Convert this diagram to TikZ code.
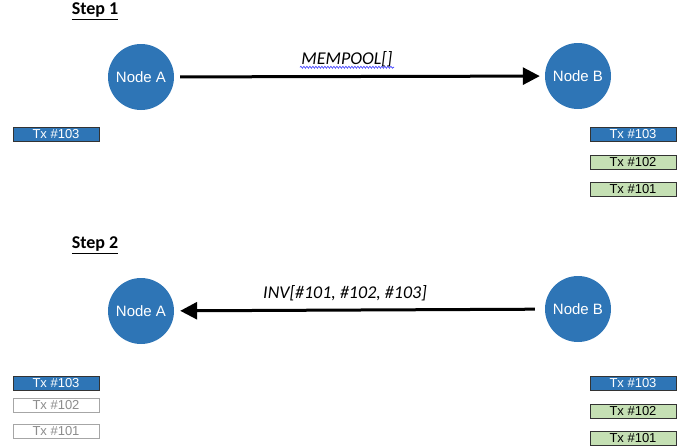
\documentclass[tikz,border=0pt]{standalone}
\usepackage{fontspec}
\setmainfont{Liberation Sans}
\newfontfamily\calibri{Carlito}
\usetikzlibrary{arrows.meta,decorations.pathmorphing}

\definecolor{peerblue}{HTML}{2E75B6}
\definecolor{txgreen}{HTML}{C5E0B4}

\begin{document}
\begin{tikzpicture}[x=1pt,y=-1pt]
    \tikzstyle{every node}=[font=\fontsize{13}{15}\selectfont]
    \tikzstyle{peer}=[circle,fill=peerblue,text=white,minimum size=66pt,inner sep=0pt,font=\fontsize{15}{17}\selectfont]
    \tikzstyle{txnew}=[draw=black!80,fill=peerblue,text=white,minimum width=86pt,minimum height=14pt,inner sep=0pt]
    \tikzstyle{txseen}=[draw=black!80,fill=txgreen,text=black,minimum width=86pt,minimum height=14pt,inner sep=0pt]
    \tikzstyle{txgone}=[draw=black!35,line width=1pt,fill=white,text=black!45,minimum width=86pt,minimum height=14pt,inner sep=0pt]
    \tikzstyle{steplabel}=[font=\calibri\bfseries\fontsize{18}{20}\selectfont]
    \tikzstyle{msg}=[font=\calibri\itshape\fontsize{18}{20}\selectfont]
    \tikzstyle{send}=[line width=3pt,-{Triangle[length=17pt,width=17pt]}]
    \useasboundingbox (0,0) rectangle (683,445);

    % step 1
    \node[steplabel] (step1) at (95,11) {\underline{Step 1}};
    \node[peer] (nodeA1) at (141,77) {Node A};
    \node[peer] (nodeB1) at (578,76) {Node B};
    \draw[send,shorten <=6pt,shorten >=5pt] (nodeA1) -- (nodeB1);
    \node[msg] (mempool) at (347,59) {MEMPOOL[]};
    \draw[blue!80,line width=0.6pt,decorate,decoration={snake,amplitude=1pt,segment length=3pt}]
        (mempool.south west) ++(2,-3) -- ([xshift=-2pt,yshift=3pt]mempool.south east);

    \node[txnew] (a1tx103) at (56,134) {Tx \#103};
    \node[txnew] (b1tx103) at (633,134) {Tx \#103};
    \node[txseen] (b1tx102) at (633,162) {Tx \#102};
    \node[txseen] (b1tx101) at (633,189.5) {Tx \#101};

    % step 2
    \node[steplabel] (step2) at (95,245) {\underline{Step 2}};
    \node[peer] (nodeA2) at (141,311) {Node A};
    \node[peer] (nodeB2) at (578,309) {Node B};
    \draw[send,shorten <=10pt,shorten >=6pt] (nodeB2) -- (nodeA2);
    \node[msg] (inv) at (345,293) {INV[\#101, \#102, \#103]};

    \node[txnew] (a2tx103) at (56,383) {Tx \#103};
    \node[txgone] (a2tx102) at (56,405.5) {Tx \#102};
    \node[txgone] (a2tx101) at (56,431) {Tx \#101};
    \node[txnew] (b2tx103) at (633,383) {Tx \#103};
    \node[txseen] (b2tx102) at (633,411.5) {Tx \#102};
    \node[txseen] (b2tx101) at (633,438) {Tx \#101};
\end{tikzpicture}
\end{document}
